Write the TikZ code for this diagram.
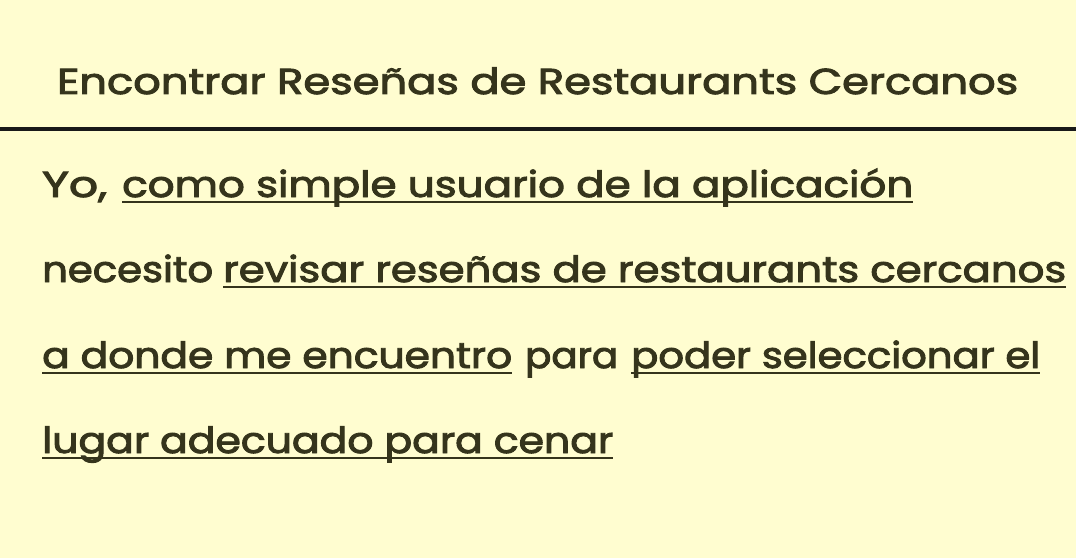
\documentclass[tikz,border=0pt]{standalone}
\usepackage{fontspec}
\setmainfont{Poppins}[UprightFeatures={FakeBold=2.5}]
\usepackage{graphicx}
\definecolor{bg}{HTML}{FFFDD0}
\definecolor{ink}{HTML}{35341C}
\newcommand\fitw[2]{\resizebox{#1pt}{\height}{#2}}
\begin{document}
\begin{tikzpicture}[x=1pt,y=1pt,
  seg/.style={anchor=base west, inner sep=0pt, text=ink, font=\fontsize{36}{40}\selectfont},
  uline/.style={draw=ink, line width=2.2pt}]
\fill[bg] (0,0) rectangle (1076,558);
\useasboundingbox (0,0) rectangle (1076,558);
% title
\node[seg] (title) at (57,464) {\fitw{961}{Encontrar Reseñas de Restaurants Cercanos}};
\coordinate (rl) at (0,428.5);
\coordinate (rr) at (1076,428.5);
\draw[line width=4pt, color=black!90] (rl) -- (rr);
% line 1
\node[seg] (l1a) at (42,361) {\fitw{65}{Yo,}};
\node[seg] (l1b) at (122,361) {\fitw{791}{como simple usuario de la aplicación}};
% line 2
\node[seg] (l2a) at (42,276) {\fitw{171}{necesito}};
\node[seg] (l2b) at (223,276) {\fitw{843}{revisar reseñas de restaurants cercanos}};
% line 3
\node[seg] (l3a) at (42,190) {\fitw{470}{a donde me encuentro}};
\node[seg] (l3b) at (525,190) {\fitw{93}{para}};
\node[seg] (l3c) at (631,190) {\fitw{409}{poder seleccionar el}};
% line 4
\node[seg] (l4a) at (42,105) {\fitw{571}{lugar adecuado para cenar}};
% underlines
\foreach \s in {l1b,l2b,l3a,l3c,l4a}
  \draw[uline] ([yshift=-5pt]\s.base west) -- ([yshift=-5pt]\s.base east);
\end{tikzpicture}
\end{document}
